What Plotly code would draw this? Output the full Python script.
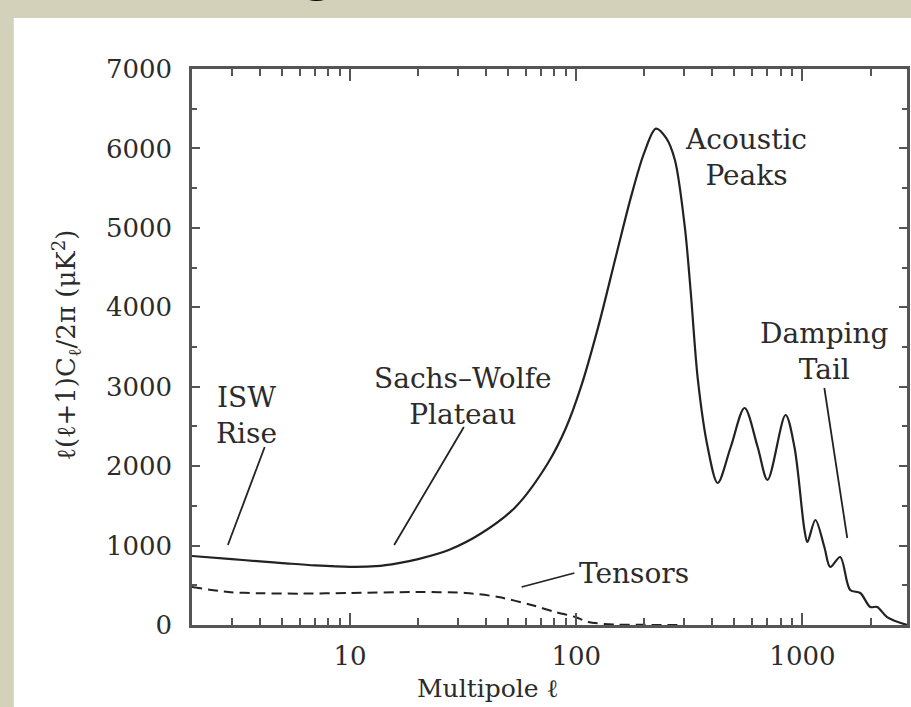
import plotly.graph_objects as go
import numpy as np

# ---- data ----
ell_tt = [2, 3, 4, 5, 7, 10, 13, 16.4, 20, 27.3, 38.2, 53.9, 75, 90, 105, 125, 150, 175, 200, 225,
          250, 273, 302, 321, 345, 381, 422, 482, 555, 634, 701, 842, 922, 1021, 1052, 1141, 1250,
          1328, 1469, 1626, 1802, 1994, 2140, 2367, 2903]
cl_tt = [869, 830, 800, 780, 750, 732, 740, 780, 830, 944, 1158, 1486, 2040, 2480, 3000, 3750, 4650,
         5400, 5950, 6250, 6130, 5854, 5011, 4180, 3085, 2241, 1788, 2241, 2732, 2241, 1826, 2644,
         2241, 1196, 1045, 1322, 982, 730, 856, 441, 403, 227, 227, 100, 0]

ell_tensor = [2, 2.9, 4, 6, 9.9, 19.5, 32.4, 45.3, 63.3, 80.8, 98.9, 113, 148, 200, 300]
cl_tensor = [478, 415, 400, 395, 403, 415, 403, 352, 252, 164, 101, 38, 5, 2, 0]

x_ticks = [10, 100, 1000]
y_ticks = [0, 1000, 2000, 3000, 4000, 5000, 6000, 7000]

# ---- layout geometry (pixels) ----
W, H = 911, 707
L, R, T, B = 192, 910, 69, 625
PW, PH = R - L, B - T

def px(x):
    return (x - L) / PW

def py(y):
    return (B - y) / PH

FONT = "DejaVu Serif"
INK = "#222222"
TXT = "#2b2b2b"

fig = go.Figure()
fig.add_trace(go.Scatter(x=ell_tt, y=cl_tt, mode="lines",
                         line=dict(color=INK, width=2.2, shape="spline", smoothing=0.9),
                         showlegend=False, hoverinfo="skip"))
fig.add_trace(go.Scatter(x=ell_tensor, y=cl_tensor, mode="lines",
                         line=dict(color=INK, width=2, dash="10px,6px", shape="spline", smoothing=0.8),
                         showlegend=False, hoverinfo="skip"))

minor_x = [m * 10 ** d for d in range(0, 4) for m in range(2, 10) if 2 < m * 10 ** d < 3000]

axis_common = dict(showline=True, linecolor="#555", linewidth=2.5, mirror="ticks",
                   ticks="inside", tickcolor="#555", tickwidth=1.5, showgrid=False, zeroline=False,
                   tickfont=dict(family=FONT, size=26, color=TXT))

fig.update_xaxes(type="log", range=[np.log10(2), np.log10(2900)], tickmode="array",
                 tickvals=x_ticks, ticktext=[str(v) for v in x_ticks], ticklen=12,
                 ticklabelstandoff=6,
                 minor=dict(tickmode="array", tickvals=minor_x, ticks="inside", ticklen=7,
                            tickcolor="#555", tickwidth=1.5, showgrid=False),
                 **axis_common)
fig.update_yaxes(range=[0, 7000], tickmode="array", tickvals=y_ticks,
                 ticktext=[str(v) for v in y_ticks], ticklen=8, ticklabelstandoff=12,
                 minor=dict(dtick=500, ticks="inside", ticklen=5, tickcolor="#555",
                            tickwidth=1.5, showgrid=False),
                 **axis_common)

shapes = []
# white panel on the slide background
shapes.append(dict(type="rect", xref="paper", yref="paper", x0=px(13), x1=px(W + 5),
                   y0=py(18), y1=py(H + 5), fillcolor="white", line=dict(width=0), layer="below"))
# leader lines
for (x0, y0, x1, y1) in [(265, 447, 228, 545), (465, 427, 395, 545),
                         (523, 587, 576, 573), (827, 388, 850, 538)]:
    shapes.append(dict(type="line", xref="paper", yref="paper", x0=px(x0), y0=py(y0),
                       x1=px(x1), y1=py(y1), line=dict(color=INK, width=1.8)))

ann_font = dict(family=FONT, size=28, color=TXT)
annotations = []
for (text, x, y) in [("ISW<br>Rise", 247, 415), ("Sachs\u2013Wolfe<br>Plateau", 464, 396),
                     ("Acoustic<br>Peaks", 748, 157), ("Damping<br>Tail", 827, 352),
                     ("Tensors", 636, 573)]:
    annotations.append(dict(text=text, x=px(x), y=py(y), xref="paper", yref="paper",
                            showarrow=False, font=ann_font, xanchor="center", yanchor="middle",
                            align="center"))
# axis titles
annotations.append(dict(text="Multipole \u2113", x=px(489), y=py(688), xref="paper", yref="paper",
                        showarrow=False, font=dict(family=FONT, size=25, color=TXT),
                        xanchor="center", yanchor="middle"))
annotations.append(dict(text="\u2113(\u2113+1)C<sub>\u2113</sub>/2\u03c0 (\u03bcK<sup>2</sup>)",
                        x=px(65), y=py(345), xref="paper", yref="paper", showarrow=False,
                        textangle=-90, font=dict(family=FONT, size=26, color=TXT),
                        xanchor="center", yanchor="middle"))
# bottom of the slide title's "g" peeking in at the top edge
annotations.append(dict(text="g", x=px(318), y=py(3.5), xref="paper", yref="paper",
                        showarrow=False, font=dict(family="Liberation Sans", size=90, color="black"),
                        xanchor="center", yanchor="bottom"))

fig.update_layout(width=W, height=H, margin=dict(l=L, r=W - R, t=T, b=H - B),
                  paper_bgcolor="#d3d1ba", plot_bgcolor="white",
                  shapes=shapes, annotations=annotations)

fig.write_html("out.html")
